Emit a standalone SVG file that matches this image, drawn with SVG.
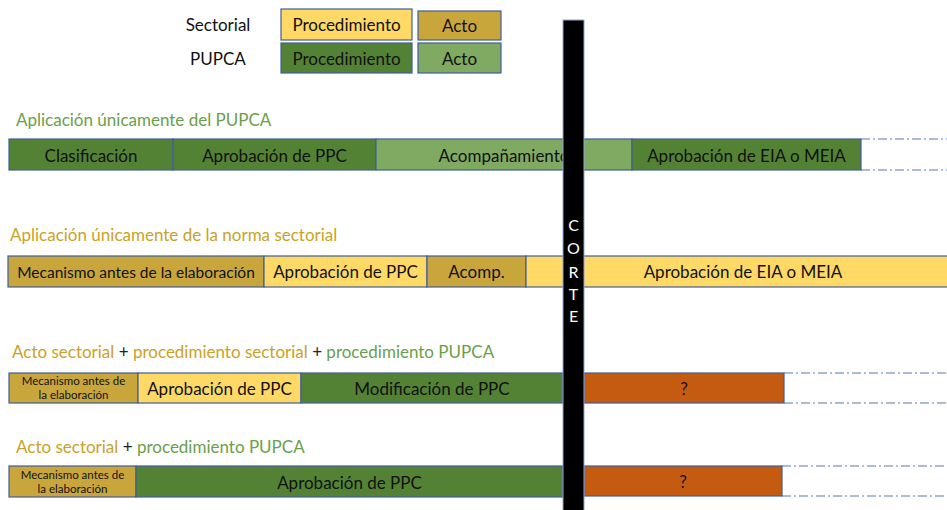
<svg xmlns="http://www.w3.org/2000/svg" width="947" height="510" viewBox="0 0 947 510">
<defs>
<style>
text{font-family:Lato,"Open Sans","Liberation Sans",sans-serif;fill:#111;}
.lbl{font-size:17px;text-anchor:middle;}
.sm{font-size:11.5px;text-anchor:middle;}
.ttl{font-size:17px;}
.g{fill:#6aa04a;}
.y{fill:#c9a227;}
.k{fill:#222;}
.b{stroke:#3f5f9a;stroke-width:1.2;}
.yel{fill:#ffd966;}
.gold{fill:#c9a63c;}
.dg{fill:#548235;}
.lg{fill:#80a962;}
.or{fill:#c55a11;}
.dd{stroke:#8fa5cf;stroke-width:1.3;stroke-dasharray:9 3 2 3;fill:none;}
.corte{font-size:16px;fill:#fff;text-anchor:middle;}
</style>
</defs>

<g id="legend">
<text x="218" y="31" class="lbl">Sectorial</text>
<text x="218" y="65" class="lbl">PUPCA</text>
<rect x="281" y="9" width="131" height="31" class="yel b"/>
<text x="346.5" y="31" class="lbl">Procedimiento</text>
<rect x="418" y="11" width="83" height="29" class="gold b"/>
<text x="459.5" y="32" class="lbl">Acto</text>
<rect x="281" y="43" width="131" height="30" class="dg b"/>
<text x="346.5" y="65" class="lbl">Procedimiento</text>
<rect x="418" y="43" width="83" height="30" class="lg b"/>
<text x="459.5" y="65" class="lbl">Acto</text>
</g>

<g id="connectors">
<line x1="861" y1="139" x2="947" y2="139" class="dd"/>
<line x1="861" y1="170" x2="947" y2="170" class="dd"/>
<line x1="784" y1="373" x2="947" y2="373" class="dd"/>
<line x1="784" y1="403" x2="947" y2="403" class="dd"/>
<line x1="782" y1="466" x2="947" y2="466" class="dd"/>
<line x1="782" y1="496" x2="947" y2="496" class="dd"/>
</g>

<g id="row1">
<text x="16" y="126" class="ttl g">Aplicación únicamente del PUPCA</text>
<g id="r1-clasificacion"><rect x="9" y="139" width="164" height="31" class="dg b"/><text x="91" y="162" class="lbl">Clasificación</text></g>
<g id="r1-ppc"><rect x="173" y="139" width="203" height="31" class="dg b"/><text x="274.5" y="162" class="lbl">Aprobación de PPC</text></g>
<g id="r1-acomp"><rect x="376" y="139" width="256" height="31" class="lg b"/><text x="504" y="162" class="lbl">Acompañamiento</text></g>
<g id="r1-eia"><rect x="632" y="139" width="229" height="31" class="dg b"/><text x="746.5" y="162" class="lbl">Aprobación de EIA o MEIA</text></g>
</g>

<g id="row2">
<text x="10" y="241" class="ttl y">Aplicación únicamente de la norma sectorial</text>
<g id="r2-mec"><rect x="8" y="256" width="256" height="31" class="gold b"/><text x="136" y="278" class="lbl" style="font-size:15.5px">Mecanismo antes de la elaboración</text></g>
<g id="r2-ppc"><rect x="264" y="256" width="163" height="31" class="yel b"/><text x="345.5" y="278" class="lbl">Aprobación de PPC</text></g>
<g id="r2-acomp"><rect x="427" y="256" width="99" height="31" class="gold b"/><text x="476.5" y="278" class="lbl">Acomp.</text></g>
<g id="r2-eia"><rect x="526" y="256" width="425" height="31" class="yel b"/><text x="743" y="278" class="lbl">Aprobación de EIA o MEIA</text></g>
</g>

<g id="row3">
<text x="12" y="358" class="ttl"><tspan class="y">Acto sectorial</tspan><tspan class="k"> + </tspan><tspan class="y">procedimiento sectorial</tspan><tspan class="k"> + </tspan><tspan class="g">procedimiento PUPCA</tspan></text>
<g id="r3-mec"><rect x="9" y="373" width="129" height="30" class="gold b"/><text x="73.5" y="385" class="sm">Mecanismo antes de</text><text x="73.5" y="399" class="sm">la elaboración</text></g>
<g id="r3-ppc"><rect x="138" y="373" width="163" height="30" class="yel b"/><text x="219.5" y="395" class="lbl">Aprobación de PPC</text></g>
<g id="r3-mod"><rect x="301" y="373" width="262" height="30" class="dg b"/><text x="432" y="395" class="lbl">Modificación de PPC</text></g>
<g id="r3-q"><rect x="584" y="373" width="200" height="30" class="or b"/><text x="684" y="395" class="lbl">?</text></g>
</g>

<g id="row4">
<text x="16" y="453" class="ttl"><tspan class="y">Acto sectorial</tspan><tspan class="k"> + </tspan><tspan class="g">procedimiento PUPCA</tspan></text>
<g id="r4-mec"><rect x="9" y="466" width="127" height="31" class="gold b"/><text x="72.5" y="479" class="sm">Mecanismo antes de</text><text x="72.5" y="493" class="sm">la elaboración</text></g>
<g id="r4-ppc"><rect x="136" y="466" width="427" height="31" class="dg b"/><text x="349.5" y="489" class="lbl">Aprobación de PPC</text></g>
<g id="r4-q"><rect x="584" y="466" width="198" height="30" class="or b"/><text x="683" y="488" class="lbl">?</text></g>
</g>

<g id="corte">
<rect x="563" y="20" width="21" height="495" fill="#000" stroke="#8fa5cf" stroke-width="1"/>
<text x="573.5" y="231" class="corte">C</text>
<text x="573.5" y="254" class="corte">O</text>
<text x="573.5" y="278" class="corte">R</text>
<text x="573.5" y="300" class="corte">T</text>
<text x="573.5" y="322" class="corte">E</text>
</g>
</svg>
